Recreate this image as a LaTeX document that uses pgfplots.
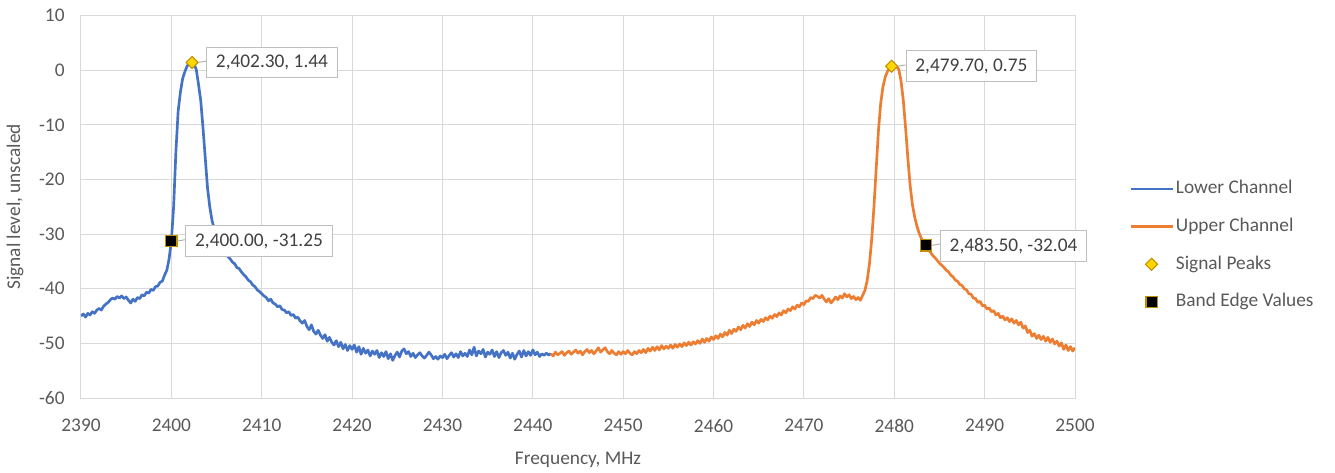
\documentclass[border=0pt]{standalone}
\usepackage{fontspec}
\setmainfont{Carlito}
\usepackage{pgfplots}
\usepackage{pgfplotstable}
\pgfplotsset{compat=1.18}
\definecolor{lowc}{HTML}{4472C4}
\definecolor{upc}{HTML}{ED7D31}
\definecolor{txt}{HTML}{595959}
\definecolor{lbltxt}{HTML}{404040}
\definecolor{gridc}{HTML}{D9D9D9}
\definecolor{peakf}{HTML}{FFD700}
\definecolor{peakd}{HTML}{BF9000}
\tikzset{lbl/.style={draw=black!25, fill=white, text=lbltxt, inner xsep=7pt, inner ysep=0pt,
    minimum height=23pt, line width=0.75pt, anchor=west, xshift=10.5pt}}

\pgfplotstableread[row sep=\\]{
x y\\
2390.00 -45.0\\ 2390.25 -44.6\\ 2390.50 -45.2\\ 2390.75 -44.5\\ 2391.00 -44.8\\ 2391.25 -44.2\\ 2391.50 -44.5\\ 2391.75 -43.9\\
2392.00 -43.6\\ 2392.25 -43.9\\ 2392.50 -43.2\\ 2392.75 -42.8\\ 2393.00 -42.5\\ 2393.25 -42.0\\ 2393.50 -41.7\\ 2393.75 -41.9\\
2394.00 -41.4\\ 2394.25 -41.7\\ 2394.50 -41.3\\ 2394.75 -41.8\\ 2395.00 -41.5\\ 2395.25 -42.1\\ 2395.50 -42.6\\ 2395.75 -41.9\\
2396.00 -42.3\\ 2396.25 -41.6\\ 2396.50 -41.8\\ 2396.75 -41.1\\ 2397.00 -41.3\\ 2397.25 -40.6\\ 2397.50 -40.8\\ 2397.75 -40.1\\
2398.00 -40.3\\ 2398.25 -39.6\\ 2398.50 -39.5\\ 2398.75 -38.8\\ 2399.00 -38.6\\ 2399.25 -37.5\\ 2399.50 -36.6\\ 2399.75 -34.5\\
2400.00 -31.25\\ 2400.25 -25.0\\ 2400.50 -15.0\\ 2400.75 -7.5\\ 2401.00 -4.0\\ 2401.25 -1.5\\ 2401.50 -0.2\\ 2401.75 0.8\\
2402.00 1.3\\ 2402.30 1.44\\ 2402.50 1.2\\ 2402.75 0.2\\ 2403.00 -2.5\\ 2403.25 -5.5\\ 2403.50 -10.5\\ 2403.75 -16.0\\
2404.00 -21.5\\ 2404.25 -25.0\\ 2404.50 -27.5\\ 2404.75 -29.0\\ 2405.00 -30.3\\ 2405.25 -31.2\\ 2405.50 -32.1\\ 2405.75 -32.9\\
2406.00 -33.5\\ 2406.25 -34.1\\ 2406.50 -34.5\\ 2406.75 -35.1\\ 2407.00 -35.4\\ 2407.25 -36.1\\ 2407.50 -36.3\\ 2407.75 -36.9\\
2408.00 -37.4\\ 2408.25 -37.8\\ 2408.50 -38.4\\ 2408.75 -38.7\\ 2409.00 -39.3\\ 2409.25 -39.6\\ 2409.50 -40.2\\ 2409.75 -40.5\\
2410.00 -40.9\\ 2410.25 -41.3\\ 2410.50 -41.6\\ 2410.75 -42.2\\ 2411.00 -41.9\\ 2411.25 -42.6\\ 2411.50 -42.8\\ 2411.75 -43.3\\
2412.00 -43.1\\ 2412.25 -43.8\\ 2412.50 -43.9\\ 2412.75 -44.4\\ 2413.00 -44.2\\ 2413.25 -44.9\\ 2413.50 -44.7\\ 2413.75 -45.4\\
2414.00 -45.2\\ 2414.25 -45.9\\ 2414.50 -46.3\\ 2414.75 -45.8\\ 2415.00 -46.9\\ 2415.25 -47.5\\ 2415.50 -46.6\\ 2415.75 -47.8\\
2416.00 -48.3\\ 2416.25 -47.6\\ 2416.50 -48.5\\ 2416.75 -49.1\\ 2417.00 -48.4\\ 2417.25 -49.6\\ 2417.50 -48.9\\ 2417.75 -49.8\\
2418.00 -50.3\\ 2418.25 -49.5\\ 2418.50 -50.6\\ 2418.75 -49.8\\ 2419.00 -51.0\\ 2419.25 -50.2\\ 2419.50 -51.3\\ 2419.75 -50.4\\
2420.00 -51.1\\ 2420.25 -50.3\\ 2420.50 -51.6\\ 2420.75 -50.6\\ 2421.00 -52.0\\ 2421.25 -50.9\\ 2421.50 -51.8\\ 2421.75 -51.2\\
2422.00 -52.3\\ 2422.25 -51.4\\ 2422.50 -52.0\\ 2422.75 -51.3\\ 2423.00 -52.6\\ 2423.25 -51.7\\ 2423.50 -52.4\\ 2423.75 -51.5\\
2424.00 -52.8\\ 2424.25 -51.9\\ 2424.50 -53.1\\ 2424.75 -52.2\\ 2425.00 -51.6\\ 2425.25 -52.5\\ 2425.50 -51.4\\ 2425.75 -51.0\\
2426.00 -51.9\\ 2426.25 -51.5\\ 2426.50 -52.4\\ 2426.75 -51.8\\ 2427.00 -52.6\\ 2427.25 -52.1\\ 2427.50 -51.7\\ 2427.75 -52.3\\
2428.00 -52.7\\ 2428.25 -52.2\\ 2428.50 -51.6\\ 2428.75 -52.1\\ 2429.00 -52.8\\ 2429.25 -52.4\\ 2429.50 -52.9\\ 2429.75 -52.3\\
2430.00 -52.6\\ 2430.25 -52.0\\ 2430.50 -52.8\\ 2430.75 -52.2\\ 2431.00 -51.7\\ 2431.25 -52.5\\ 2431.50 -51.9\\ 2431.75 -52.6\\
2432.00 -51.5\\ 2432.25 -52.3\\ 2432.50 -51.8\\ 2432.75 -52.4\\ 2433.00 -51.2\\ 2433.25 -52.1\\ 2433.50 -50.7\\ 2433.75 -52.3\\
2434.00 -51.4\\ 2434.25 -51.9\\ 2434.50 -51.1\\ 2434.75 -52.5\\ 2435.00 -51.6\\ 2435.25 -52.0\\ 2435.50 -51.2\\ 2435.75 -52.4\\
2436.00 -51.5\\ 2436.25 -52.6\\ 2436.50 -51.7\\ 2436.75 -51.3\\ 2437.00 -52.2\\ 2437.25 -51.6\\ 2437.50 -52.7\\ 2437.75 -51.8\\
2438.00 -52.9\\ 2438.25 -52.0\\ 2438.50 -51.4\\ 2438.75 -52.5\\ 2439.00 -51.3\\ 2439.25 -52.3\\ 2439.50 -51.5\\ 2439.75 -52.2\\
2440.00 -51.2\\ 2440.25 -52.1\\ 2440.50 -51.6\\ 2440.75 -52.4\\ 2441.00 -51.9\\ 2441.25 -52.2\\ 2441.50 -51.8\\ 2441.75 -52.1\\
2442.00 -51.9\\
}\lowertable

\pgfplotstableread[row sep=\\]{
x y\\
2442.00 -51.9\\ 2442.25 -52.3\\ 2442.50 -51.6\\ 2442.75 -52.1\\ 2443.00 -51.8\\ 2443.25 -51.5\\ 2443.50 -52.2\\ 2443.75 -51.7\\
2444.00 -51.4\\ 2444.25 -52.0\\ 2444.50 -51.6\\ 2444.75 -51.2\\ 2445.00 -51.8\\ 2445.25 -51.4\\ 2445.50 -52.1\\ 2445.75 -51.5\\
2446.00 -51.1\\ 2446.25 -51.7\\ 2446.50 -51.3\\ 2446.75 -51.9\\ 2447.00 -51.4\\ 2447.25 -50.8\\ 2447.50 -51.6\\ 2447.75 -51.2\\
2448.00 -50.8\\ 2448.25 -51.5\\ 2448.50 -51.9\\ 2448.75 -51.3\\ 2449.00 -51.8\\ 2449.25 -52.1\\ 2449.50 -51.5\\ 2449.75 -52.0\\
2450.00 -51.5\\ 2450.25 -51.9\\ 2450.50 -51.3\\ 2450.75 -51.8\\ 2451.00 -52.1\\ 2451.25 -51.5\\ 2451.50 -51.9\\ 2451.75 -51.3\\
2452.00 -51.7\\ 2452.25 -51.1\\ 2452.50 -51.7\\ 2452.75 -50.9\\ 2453.00 -51.4\\ 2453.25 -50.7\\ 2453.50 -51.3\\ 2453.75 -50.6\\
2454.00 -51.2\\ 2454.25 -50.4\\ 2454.50 -51.0\\ 2454.75 -50.5\\ 2455.00 -50.9\\ 2455.25 -50.3\\ 2455.50 -50.9\\ 2455.75 -50.2\\
2456.00 -50.7\\ 2456.25 -50.1\\ 2456.50 -50.6\\ 2456.75 -49.9\\ 2457.00 -50.4\\ 2457.25 -49.8\\ 2457.50 -50.3\\ 2457.75 -49.7\\
2458.00 -50.1\\ 2458.25 -49.5\\ 2458.50 -50.0\\ 2458.75 -49.2\\ 2459.00 -49.8\\ 2459.25 -49.1\\ 2459.50 -49.6\\ 2459.75 -48.8\\
2460.00 -49.3\\ 2460.25 -48.6\\ 2460.50 -49.1\\ 2460.75 -48.3\\ 2461.00 -48.8\\ 2461.25 -48.0\\ 2461.50 -48.5\\ 2461.75 -47.6\\
2462.00 -48.2\\ 2462.25 -47.4\\ 2462.50 -47.8\\ 2462.75 -47.0\\ 2463.00 -47.5\\ 2463.25 -46.7\\ 2463.50 -47.2\\ 2463.75 -46.4\\
2464.00 -46.9\\ 2464.25 -46.1\\ 2464.50 -46.6\\ 2464.75 -45.8\\ 2465.00 -46.3\\ 2465.25 -45.6\\ 2465.50 -46.0\\ 2465.75 -45.3\\
2466.00 -45.7\\ 2466.25 -45.0\\ 2466.50 -45.4\\ 2466.75 -44.7\\ 2467.00 -45.1\\ 2467.25 -44.4\\ 2467.50 -44.8\\ 2467.75 -44.0\\
2468.00 -44.4\\ 2468.25 -43.7\\ 2468.50 -44.0\\ 2468.75 -43.3\\ 2469.00 -43.7\\ 2469.25 -43.0\\ 2469.50 -43.3\\ 2469.75 -42.6\\
2470.00 -42.9\\ 2470.25 -42.2\\ 2470.50 -42.3\\ 2470.75 -41.6\\ 2471.00 -41.8\\ 2471.25 -41.2\\ 2471.50 -41.4\\ 2471.75 -41.7\\
2472.00 -41.2\\ 2472.25 -41.9\\ 2472.50 -42.4\\ 2472.75 -41.8\\ 2473.00 -42.6\\ 2473.25 -42.1\\ 2473.50 -41.5\\ 2473.75 -42.0\\
2474.00 -41.3\\ 2474.25 -41.7\\ 2474.50 -40.9\\ 2474.75 -41.5\\ 2475.00 -41.1\\ 2475.25 -41.8\\ 2475.50 -41.4\\ 2475.75 -42.0\\
2476.00 -41.6\\ 2476.25 -42.1\\ 2476.50 -41.2\\ 2476.75 -40.3\\ 2477.00 -38.5\\ 2477.25 -35.5\\ 2477.50 -31.0\\ 2477.75 -25.0\\
2478.00 -18.0\\ 2478.25 -11.0\\ 2478.50 -6.0\\ 2478.75 -3.0\\ 2479.00 -1.2\\ 2479.25 -0.2\\ 2479.50 0.5\\ 2479.70 0.75\\
2480.00 0.6\\ 2480.25 0.7\\ 2480.50 0.2\\ 2480.75 -2.0\\ 2481.00 -5.5\\ 2481.25 -10.5\\ 2481.50 -16.0\\ 2481.75 -21.0\\
2482.00 -24.5\\ 2482.25 -26.8\\ 2482.50 -28.5\\ 2482.75 -29.8\\ 2483.00 -30.8\\ 2483.25 -31.5\\ 2483.50 -32.04\\ 2483.75 -32.8\\
2484.00 -33.3\\ 2484.25 -33.9\\ 2484.50 -34.3\\ 2484.75 -34.8\\ 2485.00 -35.3\\ 2485.25 -35.7\\ 2485.50 -36.1\\ 2485.75 -36.6\\
2486.00 -36.9\\ 2486.25 -37.5\\ 2486.50 -37.8\\ 2486.75 -38.4\\ 2487.00 -38.6\\ 2487.25 -39.2\\ 2487.50 -39.4\\ 2487.75 -40.0\\
2488.00 -40.2\\ 2488.25 -40.9\\ 2488.50 -41.0\\ 2488.75 -41.7\\ 2489.00 -41.8\\ 2489.25 -42.5\\ 2489.50 -42.3\\ 2489.75 -43.1\\
2490.00 -43.0\\ 2490.25 -43.7\\ 2490.50 -43.5\\ 2490.75 -44.2\\ 2491.00 -44.0\\ 2491.25 -44.8\\ 2491.50 -44.5\\ 2491.75 -45.3\\
2492.00 -45.0\\ 2492.25 -45.7\\ 2492.50 -45.3\\ 2492.75 -46.0\\ 2493.00 -45.5\\ 2493.25 -46.3\\ 2493.50 -45.8\\ 2493.75 -46.6\\
2494.00 -46.1\\ 2494.25 -47.2\\ 2494.50 -46.8\\ 2494.75 -48.0\\ 2495.00 -47.6\\ 2495.25 -48.7\\ 2495.50 -48.2\\ 2495.75 -49.1\\
2496.00 -48.5\\ 2496.25 -49.3\\ 2496.50 -48.7\\ 2496.75 -49.6\\ 2497.00 -48.9\\ 2497.25 -49.8\\ 2497.50 -49.2\\ 2497.75 -50.1\\
2498.00 -49.6\\ 2498.25 -50.5\\ 2498.50 -49.9\\ 2498.75 -51.1\\ 2499.00 -50.3\\ 2499.25 -51.3\\ 2499.50 -50.6\\ 2499.75 -51.4\\
2500.00 -50.8\\
}\uppertable

\begin{document}
\begin{tikzpicture}[font=\fontsize{14.5}{17}\selectfont]
\useasboundingbox (-60.75pt,-55.5pt) rectangle (940.5pt,298.5pt);
\begin{axis}[
  scale only axis, width=745.5pt, height=286.7pt,
  at={(0,0)}, anchor=south west,
  xmin=2390, xmax=2500, ymin=-60, ymax=10,
  clip mode=individual,
  xtick={2390,2400,...,2500}, ytick={-60,-50,...,10},
  scaled x ticks=false, scaled y ticks=false,
  grid=major, major grid style={gridc, line width=0.75pt},
  axis line style={gridc, line width=0.75pt},
  major tick length=0pt,
  tick label style={txt, font=\fontsize{14.5}{17}\selectfont},
  /pgf/number format/assume math mode=true,
  /pgf/number format/1000 sep={},
  xticklabel style={yshift=-12.5pt},
  yticklabel style={xshift=-8.8pt},
  xlabel={Frequency, MHz}, ylabel={Signal level, unscaled},
  xlabel style={at={(axis description cs:0.5,-0.162)}, anchor=center, txt},
  ylabel style={at={(axis description cs:-0.0664,0.5)}, anchor=center, txt},
  legend style={draw=none, fill=none, at={(1.0543,0.399)}, anchor=west, inner sep=0pt,
    row sep=12.3pt, nodes={text=txt, text height=10pt, text depth=3pt, inner sep=1.5pt},
    font=\fontsize{14.5}{17}\selectfont},
  legend cell align=left,
  legend image code/.code={\draw[mark repeat=2,mark phase=2,#1] plot coordinates {(0pt,0pt)(15.75pt,0pt)(31.5pt,0pt)};},
]
\addplot[lowc, line width=2pt, line join=round, mark=none] table[x=x,y=y] {\lowertable};
\addlegendentry{Lower Channel}
\addplot[upc, line width=2pt, line join=round, mark=none] table[x=x,y=y] {\uppertable};
\addlegendentry{Upper Channel}
\addplot[only marks, mark=square*, mark size=3.2pt,
  mark options={rotate=45, fill=peakf, draw=peakd, line width=0.8pt}]
  coordinates {(2402.3,1.44) (2479.7,0.75)};
\addlegendentry{Signal Peaks}
\addplot[only marks, mark=square*, mark size=4.2pt,
  mark options={fill=black, draw=peakd, line width=1pt}]
  coordinates {(2400,-31.25) (2483.5,-32.04)};
\addlegendentry{Band Edge Values}

\draw[black!30, line width=0.75pt] ([xshift=4.5pt]axis cs:2402.3,1.44) -- ([xshift=10.5pt,yshift=1pt]axis cs:2402.3,1.44);
\draw[black!30, line width=0.75pt] ([xshift=4.5pt]axis cs:2400,-31.25) -- ([xshift=10.5pt,yshift=1pt]axis cs:2400,-31.25);
\draw[black!30, line width=0.75pt] ([xshift=4.5pt]axis cs:2479.7,0.75) -- ([xshift=10.5pt,yshift=1pt]axis cs:2479.7,0.75);
\draw[black!30, line width=0.75pt] ([xshift=4.5pt]axis cs:2483.5,-32.04) -- ([xshift=10.5pt,yshift=1pt]axis cs:2483.5,-32.04);
\node[lbl] at (axis cs:2402.3,1.44) {2,402.30, 1.44};
\node[lbl] at (axis cs:2400,-31.25) {2,400.00, -31.25};
\node[lbl] at (axis cs:2479.7,0.75) {2,479.70, 0.75};
\node[lbl, yshift=-0.7pt] at (axis cs:2483.5,-32.04) {2,483.50, -32.04};
\end{axis}
\end{tikzpicture}
\end{document}
